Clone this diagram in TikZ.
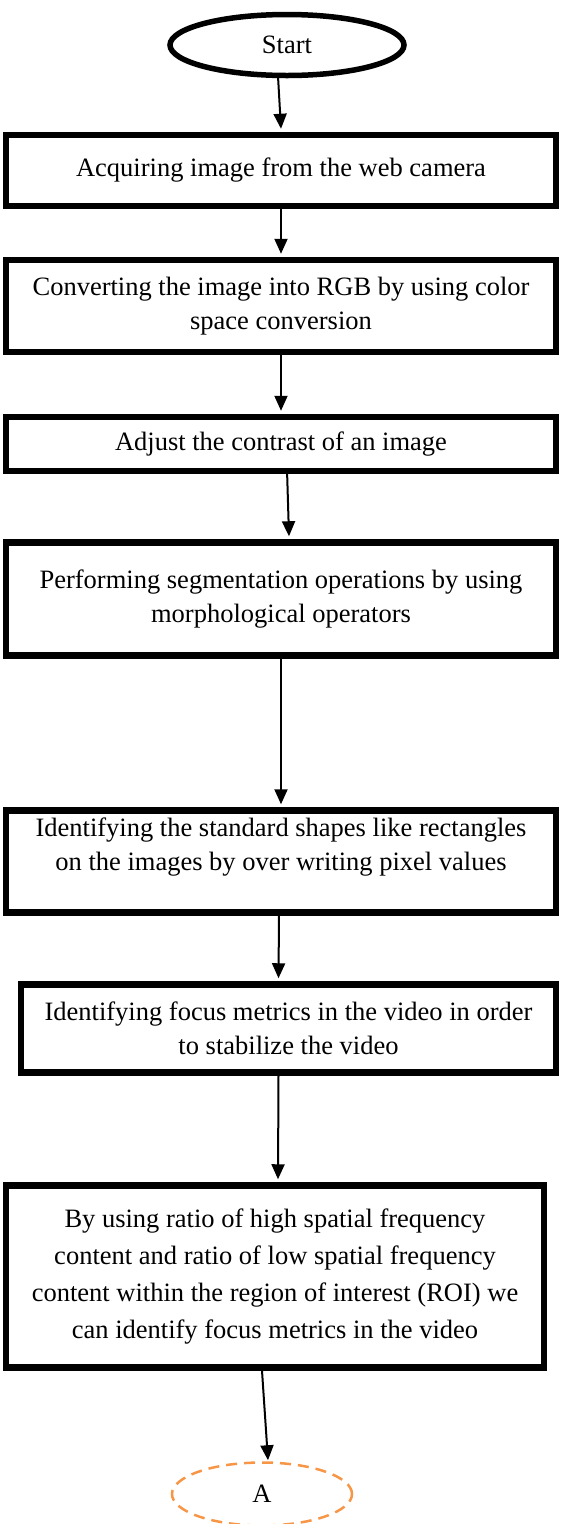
\documentclass[tikz,border=0pt]{standalone}
\usepackage{fontspec}
\setmainfont{Liberation Serif}
\usetikzlibrary{shapes.geometric,arrows.meta}
\definecolor{aorange}{HTML}{F79646}
\begin{document}
\begin{tikzpicture}[x=1pt,y=-1pt,
  every node/.style={font=\fontsize{26.5}{34}\selectfont},
  procbox/.style={draw,line width=6.5pt,rectangle,inner sep=0pt,align=center},
  term/.style={draw,line width=5.5pt,ellipse,inner sep=0pt},
  conn/.style={draw,ellipse,inner sep=0pt,aorange,line width=2.5pt,dash pattern=on 11pt off 7pt,text=black},
  arr/.style={-{Triangle[length=15pt,width=13pt]},line width=2pt}]
\useasboundingbox (0,0) rectangle (560,1524);
\node[term,minimum width=234pt,minimum height=61pt] (start) at (287,45) {Start};
\node[procbox,minimum width=550pt,minimum height=71pt] (b1) at (281,170.5) {Acquiring image from the web camera};
\node[procbox,minimum width=550pt,minimum height=92pt] (b2) at (281,306) {Converting the image into RGB by using color\\space conversion};
\node[procbox,minimum width=550pt,minimum height=54pt] (b3) at (281,444) {Adjust the contrast of an image};
\node[procbox,minimum width=550pt,minimum height=113pt] (b4) at (281,599) {Performing segmentation operations by using\\morphological operators};
\node[procbox,minimum width=550pt,minimum height=102pt] (b5) at (281,861.5) {Identifying the standard shapes like rectangles\\on the images by over writing pixel values\\\mbox{}};
\node[procbox,minimum width=535pt,minimum height=88pt] (b6) at (288.5,1028.5) {Identifying focus metrics in the video in order\\to stabilize the video};
\node[procbox,minimum width=538pt,minimum height=182pt,font=\fontsize{26.5}{37}\selectfont] (b7) at (275,1276.5) {By using ratio of high spatial frequency\\content and ratio of low spatial frequency\\content within the region of interest (ROI) we\\can identify focus metrics in the video};
\node[conn,minimum width=180pt,minimum height=63pt] (A) at (262,1494) {A};
\draw[arr] ([xshift=-9pt,yshift=2pt]start.south) -- ([yshift=3pt]b1.north);
\draw[arr] (b1.south) -- ([yshift=3pt]b2.north);
\draw[arr] ([yshift=6pt]b2.south) -- ([yshift=3pt]b3.north);
\draw[arr] ([xshift=6pt,yshift=5pt]b3.south) -- ([xshift=8pt,yshift=3pt]b4.north);
\draw[arr] (b4.south) -- ([yshift=3pt]b5.north);
\draw[arr] ([xshift=-2pt]b5.south) -- ([xshift=-10pt,yshift=3pt]b6.north);
\draw[arr] ([xshift=-10pt]b6.south) -- ([xshift=3pt,yshift=3pt]b7.north);
\draw[arr] ([xshift=-13pt]b7.south) -- ([xshift=6pt,yshift=1pt]A.north);
\end{tikzpicture}
\end{document}
